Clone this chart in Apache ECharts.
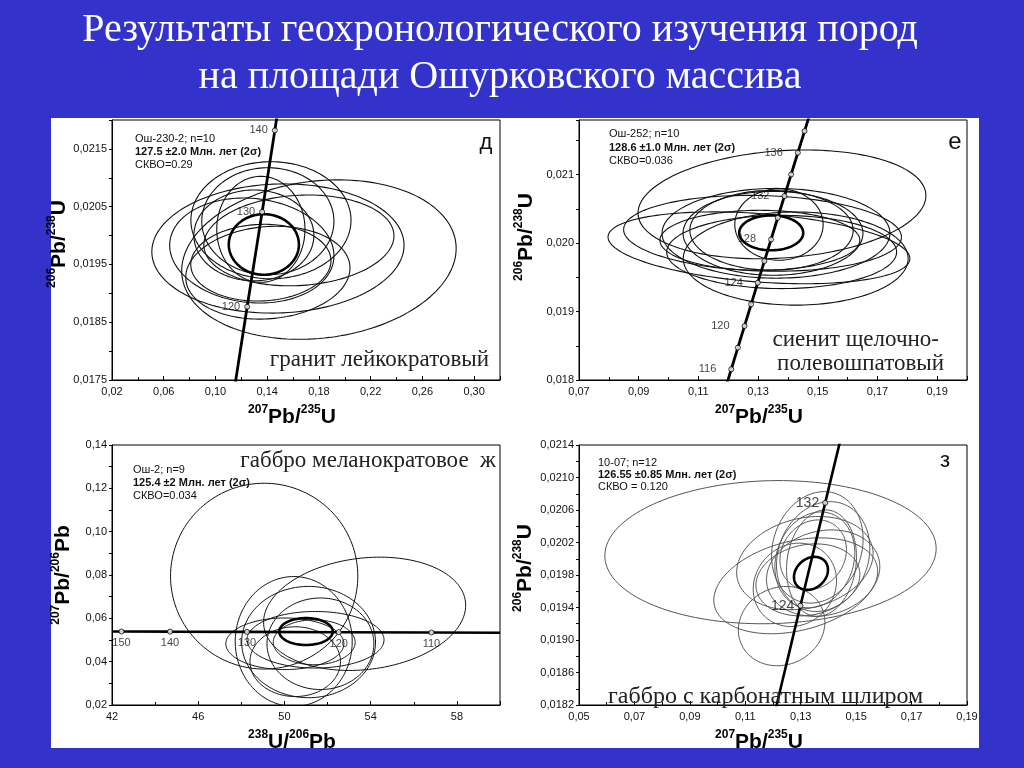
<!DOCTYPE html>
<html><head><meta charset="utf-8">
<script src="https://cdn.jsdelivr.net/npm/echarts@6/dist/echarts.min.js"></script>
<style>html,body{margin:0;padding:0;background:#3333cc}#c{width:1024px;height:768px}</style>
</head><body><div id="c"></div>
<script>
// ===== DATA =====
// error ellipses: [x, y, halfWidthX, halfWidthY, rho]
const ellD = [
  [0.1800, 0.019584, 0.1061, 0.00138, 0.14],
  [0.1483, 0.019776, 0.0975, 0.001118, 0.05],
  [0.1405, 0.019357, 0.0635, 0.000803, 0.1],
  [0.1281, 0.019741, 0.0635, 0.000908, -0.1],
  [0.1429, 0.020265, 0.0619, 0.001013, 0],
  [0.1405, 0.020248, 0.0511, 0.000926, 0],
  [0.1351, 0.020108, 0.0341, 0.000917, 0],
  [0.1351, 0.019531, 0.0542, 0.000664, 0.05],
  [0.1645, 0.019916, 0.0735, 0.000786, 0.1],
  [0.1297, 0.020003, 0.0464, 0.000786, 0]
];
const meanD = [[0.1374, 0.019846, 0.0271, 0.000524, 0]];
const concDX = [0.1150, 0.1245, 0.1361, 0.1459, 0.1478];
const concDY = [0.01740, 0.018768, 0.02041, 0.02182, 0.02210];
const tickDAges = ['', '120', '130', '140', ''];

const ellE = [
  [0.1380, 0.020567, 0.04823, 0.000795, 0.16],
  [0.1370, 0.020272, 0.0148, 0.000522, 0],
  [0.1345, 0.020188, 0.02736, 0.000583, 0],
  [0.1350, 0.020144, 0.03014, 0.000613, 0],
  [0.1360, 0.020144, 0.03818, 0.000656, 0],
  [0.1315, 0.020144, 0.04655, 0.000554, -0.1],
  [0.1303, 0.019932, 0.05057, 0.000525, -0.3],
  [0.1426, 0.019775, 0.03768, 0.000681, 0],
  [0.1379, 0.019871, 0.03852, 0.000535, 0],
  [0.1306, 0.020042, 0.03349, 0.000438, 0]
];
const meanE = [[0.1344, 0.020151, 0.01072, 0.000255, 0]];

// concordia points (ages in Ma) for 207Pb/235U – 206Pb/238U diagrams
const concAges = [114, 116, 118, 120, 122, 124, 126, 128, 130, 132, 134, 136, 138, 140];
const concX = [0.11882, 0.12102, 0.12323, 0.12545, 0.12767, 0.12989, 0.13212, 0.13435, 0.13659, 0.13883, 0.14107, 0.14332, 0.14558, 0.14784];
const concY = [0.017842, 0.018157, 0.018473, 0.018789, 0.019106, 0.019422, 0.019738, 0.020054, 0.020371, 0.020688, 0.021004, 0.021321, 0.021638, 0.021955];
const labelAgesE = [116, 120, 124, 128, 132, 136];
const markAgesE = [116, 118, 120, 122, 124, 126, 128, 130, 132, 134, 136, 138];
const markAgesZ = [124, 132];

const ellZh = [
  [49.06, 0.07947, 4.344, 0.04288, 0],
  [53.72, 0.06209, 4.688, 0.02614, 0.15],
  [50.43, 0.04932, 2.714, 0.02997, 0],
  [51.12, 0.04905, 3.105, 0.02568, 0],
  [51.67, 0.04826, 2.48, 0.02112, 0],
  [50.02, 0.04826, 2.739, 0.0119, 0],
  [51.44, 0.05011, 3.18, 0.01305, 0],
  [51.38, 0.04895, 1.9, 0.01037, 0],
  [50.5, 0.0400, 2.1, 0.0161, 0]
];
const meanZh = [[51.00, 0.0539, 1.24, 0.0062, 0]];
const concZhX = [42.0, 42.44, 44.69, 48.26, 52.52, 56.82, 60.0];
const concZhY = [0.05395, 0.05392, 0.05385, 0.05375, 0.05360, 0.05345, 0.05335];
const tickZhAges = ['', '150', '140', '130', '120', '110', ''];

const ellZ = [
  [0.1191, 0.020081, 0.05977, 0.000881, 0.05],
  [0.1282, 0.019667, 0.02956, 0.00059, 0.3],
  [0.1231, 0.019171, 0.01561, 0.000488, 0.1],
  [0.1360, 0.02014, 0.01651, 0.000686, 0.15],
  [0.1381, 0.020027, 0.01684, 0.000676, 0.15],
  [0.1375, 0.019946, 0.01262, 0.000655, 0.12],
  [0.1315, 0.019946, 0.02462, 0.000574, 0.2],
  [0.1279, 0.019679, 0.01503, 0.000513, 0.1],
  [0.1345, 0.020048, 0.0120, 0.00043, 0.15],
  [0.1381, 0.019823, 0.02044, 0.000532, 0.15],
  [0.1351, 0.019986, 0.01442, 0.00059, 0.15],
  [0.1326, 0.019740, 0.01875, 0.000443, 0.15]
];
const meanZ = [[0.1337, 0.01982, 0.00613, 0.000203, 0.22]];

// ===== CHART =====
const chart = echarts.init(document.getElementById('c'));
const SANS = '"Liberation Sans", Arial, sans-serif';
const SERIF = '"Liberation Serif", "Times New Roman", serif';
const fmt = d => v => v.toFixed(d).replace('.', ',');

const rich = {
  s: {fontSize: 12, fontWeight: 'bold', fontFamily: SANS, color: '#000', verticalAlign: 'top', lineHeight: 12},
  b: {fontSize: 21, fontWeight: 'bold', fontFamily: SANS, color: '#000', lineHeight: 26}
};
const nm = (a, b, c, d) => `{s|${a}}{b|${b}}{s|${c}}{b|${d}}`;

function xAx(g, min, max, itv, dec, name, showMax) {
  return {
    type: 'value', gridIndex: g, min, max, interval: itv,
    axisLine: {show: true, onZero: false, lineStyle: {color: '#000', width: 1}},
    axisTick: {show: true, inside: true, length: 4, lineStyle: {color: '#000'}},
    minorTick: {show: true, splitNumber: 2, length: 3, lineStyle: {color: '#000'}},
    splitLine: {show: false}, minorSplitLine: {show: false},
    axisLabel: {fontSize: 11, color: '#111', fontFamily: SANS, margin: 6, showMaxLabel: showMax, formatter: fmt(dec)},
    name, nameLocation: 'middle', nameGap: 24,
    nameTextStyle: {rich, padding: [0, 28, 0, 0]}
  };
}
function yAx(g, min, max, itv, dec, name, showMax, gap, pad) {
  return {
    type: 'value', gridIndex: g, min, max, interval: itv,
    axisLine: {show: true, onZero: false, lineStyle: {color: '#000', width: 1}},
    axisTick: {show: true, inside: false, length: 3, lineStyle: {color: '#000'}},
    minorTick: {show: true, splitNumber: 2, length: 3, lineStyle: {color: '#000'}},
    splitLine: {show: false}, minorSplitLine: {show: false},
    axisLabel: {fontSize: 11, color: '#111', fontFamily: SANS, margin: 5, showMaxLabel: showMax, formatter: fmt(dec)},
    name, nameLocation: 'middle', nameGap: gap,
    nameTextStyle: {rich, padding: [0, 0, 0, pad]}
  };
}

function ellipseSeries(g, data, color, width) {
  return {
    type: 'custom', xAxisIndex: g, yAxisIndex: g, data,
    dimensions: ['x', 'y', 'sx', 'sy', 'rho'], encode: {x: 0, y: 1},
    silent: true, z: 3,
    renderItem: (params, api) => {
      const cx = api.value(0), cy = api.value(1), sx = api.value(2), sy = api.value(3), r = api.value(4);
      const q = Math.sqrt(1 - r * r);
      const pts = [];
      const N = 160;
      for (let k = 0; k <= N; k++) {
        const t = k / N * 2 * Math.PI;
        pts.push(api.coord([cx + sx * Math.cos(t), cy + sy * (r * Math.cos(t) + q * Math.sin(t))]));
      }
      const cs = params.coordSys;
      return {
        type: 'polyline', shape: {points: pts},
        style: {stroke: color, lineWidth: width, fill: null},
        clipPath: {type: 'rect', shape: {x: cs.x, y: cs.y, width: cs.width, height: cs.height}}
      };
    }
  };
}
function lineSeries(g, xs, ys, w) {
  return {
    type: 'line', xAxisIndex: g, yAxisIndex: g, data: xs.map((x, i) => [x, ys[i]]),
    showSymbol: false, symbol: 'none', clip: true, silent: true, z: 5,
    lineStyle: {color: '#000', width: w}
  };
}
function markSeries(g, pts, pos, fs, dist) {
  return {
    type: 'scatter', xAxisIndex: g, yAxisIndex: g, data: pts, silent: true, z: 6,
    symbol: 'circle', symbolSize: 5,
    itemStyle: {color: '#fff', borderColor: '#000', borderWidth: 1},
    label: {show: true, position: pos, distance: dist, formatter: p => p.data[2], fontSize: fs, fontFamily: SANS, color: '#111'}
  };
}

const ptsD = concDX.map((x, i) => [x, concDY[i], tickDAges[i]]).filter(p => p[2] !== '');
const ptsE = concAges.map((a, i) => [concX[i], concY[i], labelAgesE.includes(a) ? String(a) : '', a]).filter(p => markAgesE.includes(p[3]));
const ptsZ = concAges.map((a, i) => [concX[i], concY[i], String(a), a]).filter(p => markAgesZ.includes(p[3]));
const ptsZh = concZhX.map((x, i) => [x, concZhY[i], tickZhAges[i]]).filter(p => p[2] !== '');

const txt = (x, y, text, font, opts = {}) => ({
  type: 'text', x, y, z: 100, silent: true,
  style: Object.assign({text, font, fill: '#111', textAlign: 'left', textVerticalAlign: 'middle'}, opts)
});
const reg = 'normal 11px ' + SANS, bold = 'bold 11px ' + SANS;

const option = {
  backgroundColor: '#3333cc',
  animation: false,
  grid: [
    {left: 112, top: 120, width: 388, height: 260},
    {left: 579, top: 120, width: 388, height: 260},
    {left: 112, top: 445, width: 388, height: 260},
    {left: 579, top: 445, width: 388, height: 260}
  ].map(g => Object.assign(g, {show: true, backgroundColor: '#fff', borderColor: '#000', borderWidth: 1})),
  xAxis: [
    xAx(0, 0.02, 0.32, 0.04, 2, nm('207', 'Pb/', '235', 'U'), false),
    xAx(1, 0.07, 0.20, 0.02, 2, nm('207', 'Pb/', '235', 'U'), false),
    xAx(2, 42, 60, 4, 0, nm('238', 'U/', '206', 'Pb'), false),
    xAx(3, 0.05, 0.19, 0.02, 2, nm('207', 'Pb/', '235', 'U'), true)
  ],
  yAxis: [
    yAx(0, 0.0175, 0.0220, 0.001, 4, nm('206', 'Pb/', '238', 'U'), false, 38, 12),
    yAx(1, 0.018, 0.0218, 0.001, 3, nm('206', 'Pb/', '238', 'U'), false, 40, 26),
    yAx(2, 0.02, 0.14, 0.02, 2, nm('207', 'Pb/', '206', 'Pb'), true, 36, 0),
    yAx(3, 0.0182, 0.0214, 0.0004, 4, nm('206', 'Pb/', '238', 'U'), true, 41, 14)
  ],
  graphic: [
    {type: 'rect', z: -10, silent: true, shape: {x: 51, y: 118, width: 928, height: 630}, style: {fill: '#fff'}},
    {type: 'text', x: 500, y: 30, z: 100, silent: true, style: {text: 'Результаты геохронологического изучения пород', font: 'normal 40px ' + SERIF, fill: '#fff', textAlign: 'center', textVerticalAlign: 'middle'}},
    {type: 'text', x: 500, y: 77, z: 100, silent: true, style: {text: 'на площади Ошурковского массива', font: 'normal 40px ' + SERIF, fill: '#fff', textAlign: 'center', textVerticalAlign: 'middle'}},
    // panel д
    txt(135, 139, 'Ош-230-2; n=10', reg),
    txt(135, 152, '127.5 ±2.0 Млн. лет (2σ)', bold),
    txt(135, 165, 'СКВО=0.29', reg),
    txt(486, 143, 'д', 'normal 22px ' + SANS, {textAlign: 'center'}),
    txt(489, 360, 'гранит лейкократовый', 'normal 23px ' + SERIF, {textAlign: 'right', fill: '#222'}),
    // panel е
    txt(609, 134, 'Ош-252; n=10', reg),
    txt(609, 148, '128.6 ±1.0 Млн. лет (2σ)', bold),
    txt(609, 161, 'СКВО=0.036', reg),
    txt(955, 142, 'е', 'normal 24px ' + SANS, {textAlign: 'center'}),
    txt(939, 340, 'сиенит щелочно-', 'normal 23px ' + SERIF, {textAlign: 'right', fill: '#222'}),
    txt(944, 364, 'полевошпатовый', 'normal 23px ' + SERIF, {textAlign: 'right', fill: '#222'}),
    // panel ж
    txt(133, 470, 'Ош-2; n=9', reg),
    txt(133, 483, '125.4 ±2 Млн. лет (2σ)', bold),
    txt(133, 496, 'СКВО=0.034', reg),
    txt(496, 461, 'габбро меланократовое  ж', 'normal 23px ' + SERIF, {textAlign: 'right', fill: '#222'}),
    // panel з
    txt(598, 463, '10-07; n=12', reg),
    txt(598, 475, '126.55 ±0.85 Млн. лет (2σ)', bold),
    txt(598, 487, 'СКВО = 0.120', reg),
    txt(945, 461, 'з', 'normal 22px ' + SANS, {textAlign: 'center'}),
    txt(608, 697, 'габбро с карбонатным шлиром', 'normal 24px ' + SERIF, {textAlign: 'left', fill: '#222'})
  ],
  series: [
    ellipseSeries(0, ellD, '#111', 1.1),
    ellipseSeries(0, meanD, '#000', 2.6),
    lineSeries(0, concDX, concDY, 2.8),
    markSeries(0, ptsD, 'left', 11, 4),

    ellipseSeries(1, ellE, '#111', 1.1),
    ellipseSeries(1, meanE, '#000', 2.6),
    lineSeries(1, concX, concY, 2.8),
    markSeries(1, ptsE, 'left', 11, 12),

    ellipseSeries(2, ellZh, '#111', 1),
    ellipseSeries(2, meanZh, '#000', 2.6),
    lineSeries(2, concZhX, concZhY, 2.6),
    markSeries(2, ptsZh, 'bottom', 11, 3),

    ellipseSeries(3, ellZ, '#555', 1),
    ellipseSeries(3, meanZ, '#000', 2.6),
    lineSeries(3, concX, concY, 2.6),
    markSeries(3, ptsZ, 'left', 14, 3)
  ]
};
chart.setOption(option);
</script>
</body></html>
